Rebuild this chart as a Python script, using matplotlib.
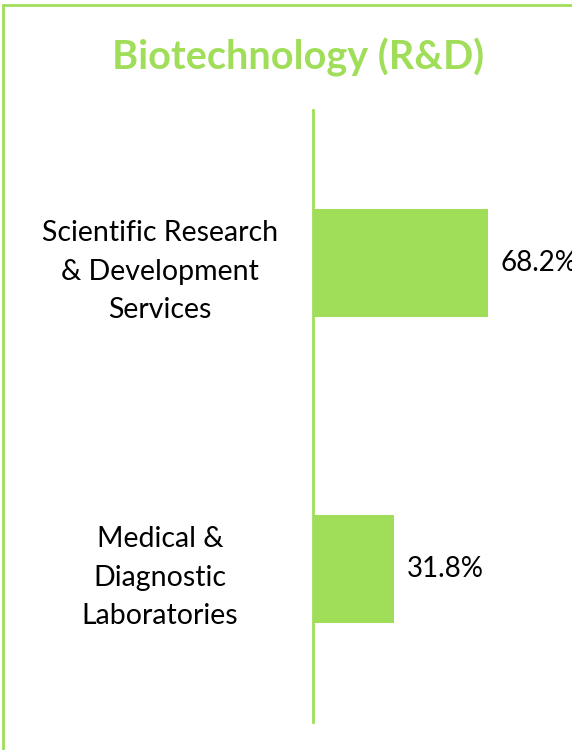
import matplotlib
matplotlib.use("Agg")
import matplotlib.pyplot as plt
from matplotlib.patches import Rectangle

title = "Biotechnology (R&D)"
categories = ["Scientific Research\n& Development\nServices", "Medical &\nDiagnostic\nLaboratories"]
values = [68.2, 31.8]
value_labels = ["68.2%", "31.8%"]

green = "#A0DE5A"
W, H = 572, 750
fig = plt.figure(figsize=(W / 100, H / 100), dpi=100)
plt.rcParams['font.family'] = ['Lato', 'DejaVu Sans']

# outer border (top + left visible)
fig.patches.append(Rectangle((3 / W, -0.1), 1.2, (H - 5) / H + 0.1, transform=fig.transFigure,
                             fill=False, edgecolor=green, linewidth=2))

fig.text(298 / W, 1 - 57 / H, title, ha="center", va="center", fontsize=28.5,
         fontweight="bold", color=green)

ax = fig.add_axes([313 / W, 1 - 722 / H, 256 / W, 612 / H])
ypos = list(range(len(categories)))
ax.barh(ypos, values, height=0.353, color=green)
ax.set_ylim(len(categories) - 0.5, -0.5)
ax.set_xlim(0, 100)
for s in ["top", "right", "bottom"]:
    ax.spines[s].set_visible(False)
ax.spines["left"].set_color(green)
ax.spines["left"].set_linewidth(2)
ax.set_xticks([])
ax.set_yticks(ypos)
ax.set_yticklabels(categories, fontsize=20.5, ha="center", linespacing=1.58)
ax.tick_params(axis="y", length=0, pad=(313 - 160) * 0.72)
for y, v, lab in zip(ypos, values, value_labels):
    ax.annotate(lab, (v, y), xytext=(9, 0), textcoords="offset points",
                va="center", ha="left", fontsize=20, color="black")

fig.savefig("out.png", dpi=100)
